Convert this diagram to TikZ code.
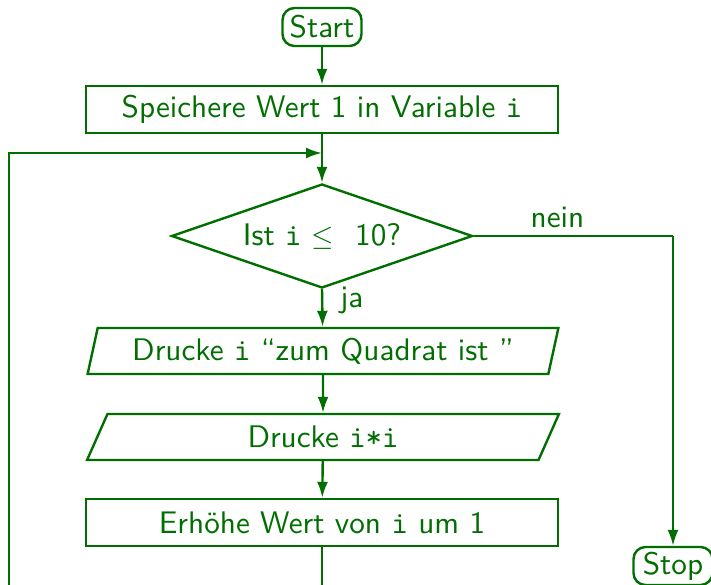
\documentclass[tikz,border=0pt]{standalone}
\usepackage{fontspec}
\setsansfont{lmsans10-regular}[Extension=.otf]
\setmonofont{lmmono10-regular}[Extension=.otf]
\usetikzlibrary{shapes.geometric,arrows.meta}
\definecolor{fg}{RGB}{0,110,0}
\begin{document}
\begin{tikzpicture}[x=0.5pt,y=-0.5pt,
  every node/.style={text=fg,font=\sffamily\fontsize{15.6}{18}\selectfont},
  line/.style={draw=fg,line width=1.2pt},
  arr/.style={line,-{Latex[length=8pt,width=5.5pt]}},
  term/.style={line,rounded corners=6pt,minimum width=39.5pt,minimum height=19pt,inner sep=0pt},
  proc/.style={line,rectangle,minimum width=236pt,minimum height=23.5pt,inner sep=0pt},
  io/.style={line,trapezium,trapezium left angle=72,trapezium right angle=108,trapezium stretches=true,minimum width=236pt,minimum height=23pt,inner sep=0pt},
  dec/.style={line,diamond,minimum width=150.5pt,minimum height=52pt,inner sep=0pt,aspect=2.9},
  lbl/.style={}]
\useasboundingbox (0,0) rectangle (711,584);
\clip (0,0) rectangle (711,584);
\node[term] (start) at (322,27) {Start};
\node[proc] (s1) at (322,109.5) {Speichere Wert 1 in Variable \texttt{i}};
\coordinate (j) at (322,153);
\node[dec] (d) at (322,236) {Ist \texttt{i} $\leq$\ \ 10?};
\node[io] (p1) at (323,351) {Drucke \texttt{i} “zum Quadrat ist ”};
\node[io] (p2) at (323,437) {Drucke \texttt{i*i}};
\node[proc] (s3) at (322,522.5) {Erhöhe Wert von \texttt{i} um 1};
\node[term] (stop) at (673,566) {Stop};
\coordinate (bot) at (322,620);
\coordinate (lft) at (9,620);
\coordinate (lt) at (9,153);
\coordinate (rt) at (d.east -| stop);
\draw[arr] (start) -- (s1);
\draw[line] (s1) -- (j);
\draw[arr] (j) -- (d);
\draw[arr] (d.south) -- node[pos=0.3,right=5pt,lbl] {ja} (p1);
\draw[arr] (p1) -- (p2);
\draw[arr] (p2) -- (s3);
\draw[arr] (s3) -- (bot) -- (lft) -- (lt) -- (j);
\draw[line] (d.east) -- node[pos=0.42,above,lbl] {nein} (rt);
\draw[arr] (rt) -- (stop);
\end{tikzpicture}
\end{document}
